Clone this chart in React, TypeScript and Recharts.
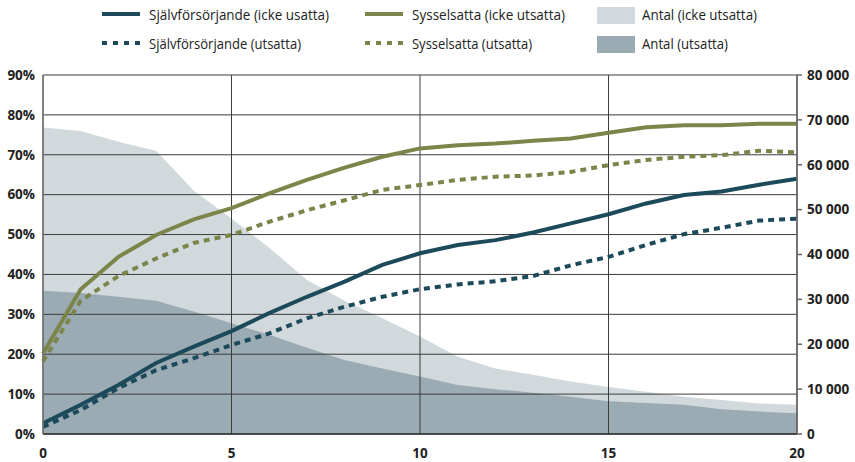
import {
  Area,
  CartesianGrid,
  ComposedChart,
  Line,
  XAxis,
  YAxis,
} from 'recharts'

const years = [0, 1, 2, 3, 4, 5, 6, 7, 8, 9, 10, 11, 12, 13, 14, 15, 16, 17, 18, 19, 20]

// andel i procent (vänster axel)
const sjalvIcke = [2.7, 7.3, 12.3, 17.8, 21.9, 25.8, 30.3, 34.4, 38.2, 42.4, 45.3, 47.4, 48.6, 50.5, 52.8, 55.1, 57.8, 59.9, 60.8, 62.5, 64.0]
const sjalvUts = [1.8, 6.0, 11.5, 16.0, 19.0, 22.3, 25.2, 29.0, 31.9, 34.4, 36.3, 37.5, 38.3, 39.6, 42.3, 44.4, 47.4, 50.1, 51.7, 53.5, 54.0]
const syssIcke = [20.2, 36.3, 44.4, 49.9, 53.8, 56.6, 60.3, 63.7, 66.8, 69.5, 71.6, 72.4, 72.8, 73.5, 74.1, 75.5, 76.9, 77.4, 77.4, 77.8, 77.8]
const syssUts = [18.2, 33.4, 39.6, 44.0, 47.9, 49.9, 53.2, 56.1, 58.6, 61.2, 62.4, 63.7, 64.5, 64.8, 65.7, 67.4, 68.7, 69.5, 69.9, 71.0, 70.6]

// antal personer (höger axel)
const antalIcke = [68300, 67500, 65100, 63100, 54200, 48000, 41500, 34300, 29700, 25800, 21700, 17200, 14600, 13200, 11700, 10500, 9400, 8300, 7600, 6800, 6500]
const antalUts = [31900, 31400, 30600, 29700, 27300, 24700, 22100, 19200, 16500, 14600, 12800, 10900, 10000, 9200, 8300, 7300, 6900, 6500, 5500, 5000, 4600]

const xTicks = [0, 5, 10, 15, 20]
const leftTicks = [0, 10, 20, 30, 40, 50, 60, 70, 80, 90]
const rightTicks = [0, 10000, 20000, 30000, 40000, 50000, 60000, 70000, 80000]

const TEAL = '#1c4a5b'
const OLIVE = '#7b8449'
const LIGHT = '#d2d9dc'
const DARK = '#9aabb4'

const data = years.map((year, i) => ({
  year,
  sjalvIcke: sjalvIcke[i],
  sjalvUts: sjalvUts[i],
  syssIcke: syssIcke[i],
  syssUts: syssUts[i],
  antalIcke: antalIcke[i],
  antalUts: antalUts[i],
}))

const tickFont = {
  fontFamily: '"Open Sans", sans-serif',
  fontSize: 13.5,
  fontWeight: 700,
  fill: '#222',
}

const formatThousands = (v: number) => (v === 0 ? '0' : `${v / 1000} 000`)

type LegendItem = {
  label: string
  kind: 'line' | 'dash' | 'box'
  color: string
  x: number
  y: number
  width: number
}

const legendItems: LegendItem[] = [
  { label: 'Självförsörjande (icke usatta)', kind: 'line', color: TEAL, x: 102, y: 14, width: 180 },
  { label: 'Sysselsatta (icke utsatta)', kind: 'line', color: OLIVE, x: 365, y: 14, width: 153 },
  { label: 'Antal (icke utsatta)', kind: 'box', color: LIGHT, x: 597, y: 14, width: 115 },
  { label: 'Självförsörjande (utsatta)', kind: 'dash', color: TEAL, x: 102, y: 43, width: 152 },
  { label: 'Sysselsatta (utsatta)', kind: 'dash', color: OLIVE, x: 365, y: 43, width: 120 },
  { label: 'Antal (utsatta)', kind: 'box', color: DARK, x: 597, y: 43, width: 86 },
]

function ChartLegend() {
  return (
    <svg width={855} height={60} style={{ position: 'absolute', left: 0, top: 0 }}>
      {legendItems.map((item) => (
        <g key={item.label}>
          {item.kind === 'box' ? (
            <rect x={item.x} y={item.y - 7} width={38} height={17} fill={item.color} />
          ) : (
            <line
              x1={item.x}
              x2={item.x + 38}
              y1={item.y}
              y2={item.y}
              stroke={item.color}
              strokeWidth={4}
              strokeDasharray={item.kind === 'dash' ? '5 6' : undefined}
            />
          )}
          <text
            x={item.kind === 'box' ? item.x + 45 : item.x + 47}
            y={item.y + 6}
            fontFamily='"Liberation Sans Narrow", "Open Sans", sans-serif'
            fontSize={15}
            fill="#222"
            textLength={item.width}
            lengthAdjust="spacingAndGlyphs"
          >
            {item.label}
          </text>
        </g>
      ))}
    </svg>
  )
}

export default function App() {
  return (
    <div style={{ position: 'absolute', left: 0, top: 0, width: 855, height: 462, background: '#fff' }}>
      <ComposedChart
        width={855}
        height={462}
        data={data}
        margin={{ top: 75, right: 0, bottom: 0, left: 0 }}
      >
        <XAxis
          dataKey="year"
          type="number"
          domain={[0, 20]}
          ticks={xTicks}
          height={28}
          tickLine={false}
          tickSize={0}
          tickMargin={14}
          axisLine={{ stroke: '#333', strokeWidth: 1.5 }}
          tick={tickFont}
          interval={0}
        />
        <YAxis
          yAxisId="left"
          orientation="left"
          width={43}
          domain={[0, 90]}
          ticks={leftTicks}
          tickFormatter={(v: number) => `${v}%`}
          tickLine={false}
          tickSize={0}
          tickMargin={8}
          axisLine={{ stroke: '#777', strokeWidth: 1.5 }}
          tick={tickFont}
          interval={0}
        />
        <YAxis
          yAxisId="right"
          orientation="right"
          width={58}
          domain={[0, 80000]}
          ticks={rightTicks}
          tickFormatter={formatThousands}
          tickLine={{ stroke: '#666', strokeWidth: 1.5 }}
          tickSize={5}
          tickMargin={5}
          axisLine={{ stroke: '#666', strokeWidth: 1.5 }}
          tick={{ ...tickFont, textAnchor: 'start' }}
          interval={0}
        />
        <Area
          yAxisId="right"
          type="linear"
          dataKey="antalIcke"
          name="Antal (icke utsatta)"
          stroke="none"
          fill={LIGHT}
          fillOpacity={1}
          isAnimationActive={false}
        />
        <Area
          yAxisId="right"
          type="linear"
          dataKey="antalUts"
          name="Antal (utsatta)"
          stroke="none"
          fill={DARK}
          fillOpacity={1}
          isAnimationActive={false}
        />
        <CartesianGrid
          yAxisId="left"
          stroke="#3c3c3c"
          strokeWidth={1}
          zIndex={250}
        />
        <Line
          yAxisId="left"
          type="linear"
          dataKey="sjalvIcke"
          name="Självförsörjande (icke usatta)"
          stroke={TEAL}
          strokeWidth={4}
          dot={false}
          isAnimationActive={false}
        />
        <Line
          yAxisId="left"
          type="linear"
          dataKey="sjalvUts"
          name="Självförsörjande (utsatta)"
          stroke={TEAL}
          strokeWidth={4}
          strokeDasharray="6 5"
          dot={false}
          isAnimationActive={false}
        />
        <Line
          yAxisId="left"
          type="linear"
          dataKey="syssIcke"
          name="Sysselsatta (icke utsatta)"
          stroke={OLIVE}
          strokeWidth={4}
          dot={false}
          isAnimationActive={false}
        />
        <Line
          yAxisId="left"
          type="linear"
          dataKey="syssUts"
          name="Sysselsatta (utsatta)"
          stroke={OLIVE}
          strokeWidth={4}
          strokeDasharray="6 5"
          dot={false}
          isAnimationActive={false}
        />
      </ComposedChart>
      <ChartLegend />
    </div>
  )
}
